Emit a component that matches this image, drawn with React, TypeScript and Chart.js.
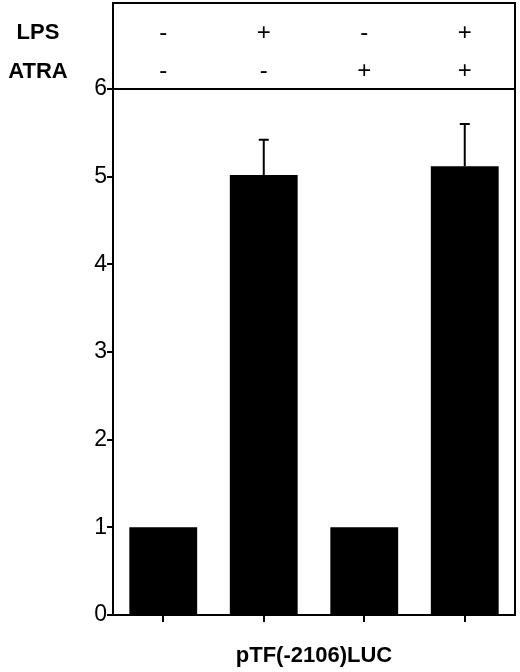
import React, { useEffect, useRef } from 'react';
import { Chart, registerables } from 'chart.js';

Chart.register(...registerables);

const categories = ['LPS- ATRA-', 'LPS+ ATRA-', 'LPS- ATRA+', 'LPS+ ATRA+'];
const lpsRow = ['-', '+', '-', '+'];
const atraRow = ['-', '-', '+', '+'];
const rowLabels = ['LPS', 'ATRA'];
const values = [1.0, 5.02, 1.0, 5.12];
const errors = [0, 0.4, 0, 0.48];
const yMin = 0;
const yMax = 6;
const yStep = 1;
const xTitle = 'pTF(-2106)LUC';

const FONT = '"Liberation Sans", Arial, Helvetica, sans-serif';

const framePlugin = {
  id: 'framePlugin',
  afterDatasetsDraw(chart: any) {
    const { ctx, chartArea, scales } = chart;
    const xs = scales.x;
    const ys = scales.y;
    ctx.save();
    ctx.strokeStyle = '#000';
    ctx.lineWidth = 2;
    // error bars (upper only)
    values.forEach((v, i) => {
      if (!errors[i]) return;
      const px = xs.getPixelForValue(i);
      const y0 = ys.getPixelForValue(v);
      const y1 = ys.getPixelForValue(v + errors[i]);
      ctx.beginPath();
      ctx.moveTo(px, y0);
      ctx.lineTo(px, y1);
      ctx.moveTo(px - 5, y1);
      ctx.lineTo(px + 5, y1);
      ctx.stroke();
    });
    // frame around plot + header
    const top = 3;
    ctx.strokeRect(chartArea.left, top, chartArea.right - chartArea.left, chartArea.bottom - top);
    ctx.beginPath();
    ctx.moveTo(chartArea.left, chartArea.top);
    ctx.lineTo(chartArea.right, chartArea.top);
    ctx.stroke();
    // header rows
    const headerH = chartArea.top - top;
    const rowY = [top + headerH * 0.35, top + headerH * 0.8];
    const rows = [lpsRow, atraRow];
    ctx.fillStyle = '#000';
    ctx.textBaseline = 'middle';
    ctx.textAlign = 'center';
    rows.forEach((row, r) => {
      ctx.font = `bold 22px ${FONT}`;
      ctx.fillText(rowLabels[r], 38, rowY[r]);
      ctx.font = `24px ${FONT}`;
      row.forEach((s, i) => {
        ctx.fillText(s, xs.getPixelForValue(i), rowY[r]);
      });
    });
    ctx.restore();
  },
};

export default function App() {
  const ref = useRef<HTMLCanvasElement | null>(null);
  useEffect(() => {
    if (!ref.current) return;
    const chart = new Chart(ref.current, {
      type: 'bar',
      data: {
        labels: categories,
        datasets: [
          {
            data: values,
            backgroundColor: '#000',
            borderWidth: 0,
            barPercentage: 0.675,
            categoryPercentage: 1,
          },
        ],
      },
      options: {
        responsive: false,
        animation: false,
        layout: { padding: { top: 89, right: 5, left: 0, bottom: 0 } },
        plugins: { legend: { display: false }, tooltip: { enabled: false } },
        scales: {
          x: {
            grid: {
              offset: false,
              drawOnChartArea: false,
              drawTicks: true,
              tickLength: 7,
              color: '#000',
              lineWidth: 2,
            },
            border: { display: true, color: '#000', width: 2 },
            ticks: { display: false },
            title: {
              display: true,
              text: xTitle,
              color: '#000',
              font: { family: FONT, size: 22, weight: 'bold' },
              padding: { top: 0, bottom: 3 },
            },
            afterFit: (s: any) => {
              s.height = 57;
            },
          },
          y: {
            min: yMin,
            max: yMax,
            ticks: {
              stepSize: yStep,
              color: '#000',
              padding: 0,
              font: { family: FONT, size: 23 },
            },
            grid: {
              drawOnChartArea: false,
              drawTicks: true,
              tickLength: 6,
              color: '#000',
              lineWidth: 2,
            },
            border: { display: true, color: '#000', width: 2 },
            afterFit: (s: any) => {
              s.width = 113;
            },
          },
        },
      },
      plugins: [framePlugin],
    });
    return () => chart.destroy();
  }, []);
  return (
    <div style={{ position: 'absolute', left: 0, top: 0, width: 520, height: 672, background: '#fff' }}>
      <canvas ref={ref} width={520} height={672} style={{ display: 'block' }} />
    </div>
  );
}
